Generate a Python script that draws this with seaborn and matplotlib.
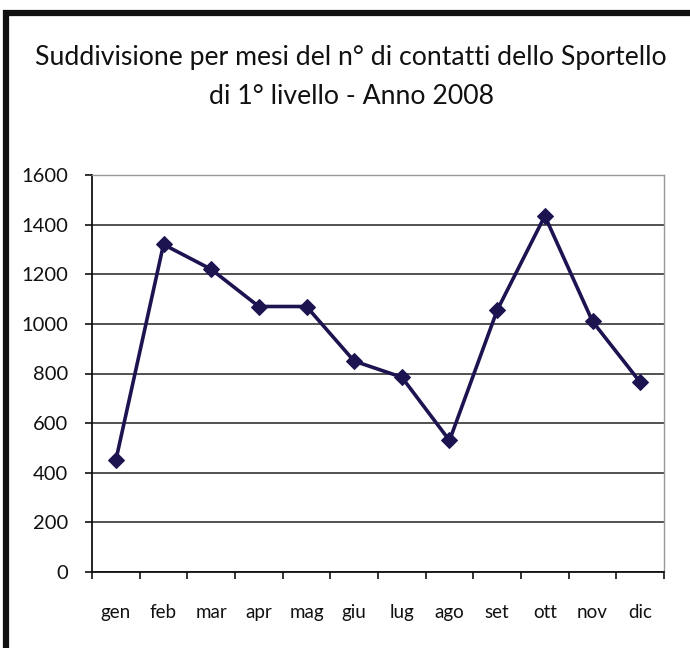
import matplotlib
matplotlib.use("Agg")
import matplotlib.pyplot as plt
import seaborn as sns
import pandas as pd
from matplotlib.patches import Rectangle
from matplotlib.ticker import MultipleLocator, FixedLocator

months = ["gen", "feb", "mar", "apr", "mag", "giu", "lug", "ago", "set", "ott", "nov", "dic"]
contatti = [450, 1320, 1220, 1070, 1070, 850, 785, 530, 1055, 1435, 1010, 765]
title_lines = ["Suddivisione per mesi del n° di contatti dello Sportello",
               "di 1° livello - Anno 2008"]

sns.set_theme(style="white")
plt.rcParams['font.family'] = ['Lato', 'DejaVu Sans']

df = pd.DataFrame({"mese": months, "contatti": contatti})

fig = plt.figure(figsize=(6.9, 6.48), dpi=100)
ax = fig.add_axes([92/690, 1-572/648, (664-92)/690, (572-175)/648])

sns.lineplot(data=df, x="mese", y="contatti", ax=ax, sort=False, color="#1c1450",
             linewidth=2.6, marker="D", markersize=8, markeredgecolor="#1c1450")

ax.set_xlim(-0.5, len(months) - 0.5)
ax.set_ylim(0, 1600)
ax.yaxis.set_major_locator(MultipleLocator(200))
ax.grid(axis="y", color="#222222", linewidth=1.1)
ax.set_axisbelow(True)
ax.set_xlabel("")
ax.set_ylabel("")

for s in ["top", "right"]:
    ax.spines[s].set_color("#999999")
    ax.spines[s].set_linewidth(1.0)
for s in ["left", "bottom"]:
    ax.spines[s].set_color("#111111")
    ax.spines[s].set_linewidth(1.3)

ax.xaxis.set_minor_locator(FixedLocator([i - 0.5 for i in range(len(months) + 1)]))
ax.tick_params(axis="x", which="major", length=0, pad=23, labelsize=13.5, colors="#111111")
ax.tick_params(axis="x", which="minor", length=5, width=1.2, direction="out", bottom=True, color="#111111")
ax.tick_params(axis="y", which="major", length=5, width=1.2, direction="out", left=True,
               pad=12, labelsize=14.5, colors="#111111")

fig.text(0.509, 1 - 57/648, title_lines[0], ha="center", va="center", fontsize=19.2, color="#111111")
fig.text(0.509, 1 - 97/648, title_lines[1], ha="center", va="center", fontsize=19.2, color="#111111")

fig.patches.append(Rectangle((6/690, -0.05), 1.0, 1 - 13/648 + 0.05, transform=fig.transFigure,
                             fill=False, edgecolor="#111111", linewidth=4.5, figure=fig))

fig.savefig("out.png", dpi=100, facecolor="white")
